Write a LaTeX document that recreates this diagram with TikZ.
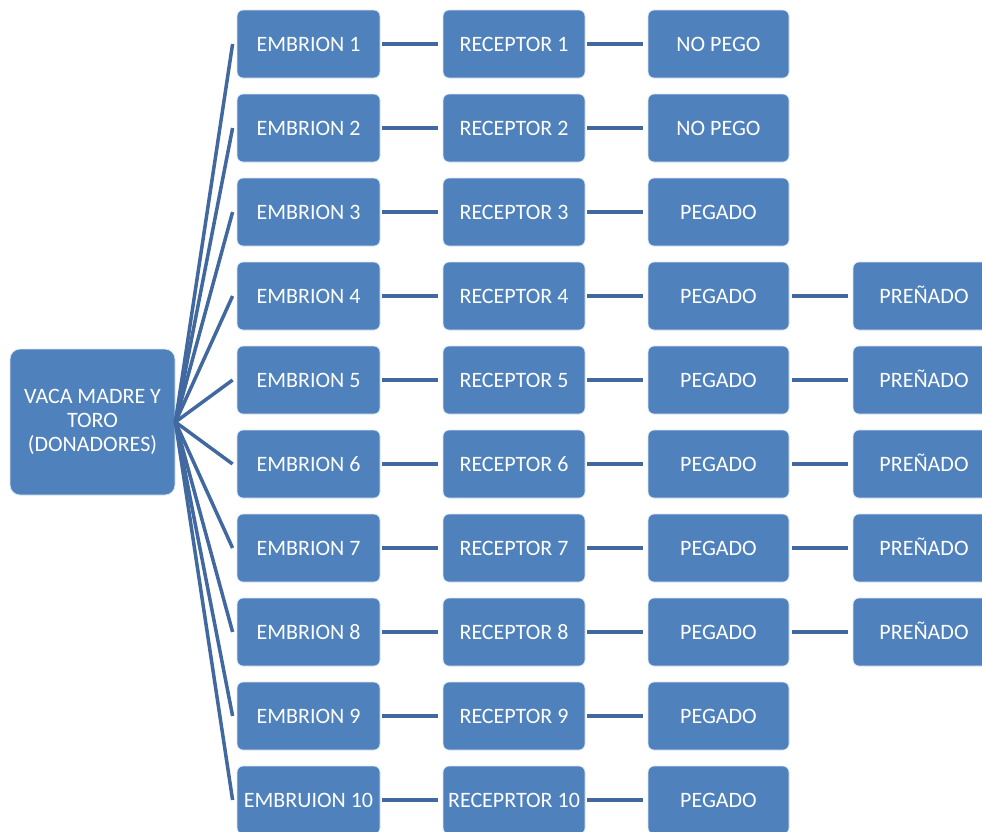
\documentclass[tikz,border=0pt]{standalone}
\usepackage{fontspec}
\setmainfont{Carlito}
\usetikzlibrary{calc}
\definecolor{boxblue}{HTML}{4F81BD}
\definecolor{linkblue}{HTML}{41699F}
\begin{document}
\begin{tikzpicture}[x=1pt,y=-1pt,
 box/.style={draw=white!80!boxblue, line width=0.8pt, fill=boxblue, rounded corners=6pt, minimum width=142pt, minimum height=68pt, inner sep=0pt, text=white, font=\fontsize{22}{24}\selectfont, align=center},
 onebox/.style={box, text height=14pt, text depth=0pt},
 link/.style={draw=linkblue, line width=4.5pt},
 fan/.style={draw=linkblue, line width=3.5pt}]
\useasboundingbox (0,0) rectangle (982,831);
\clip (0,0) rectangle (982,831);
\node[box, minimum width=165pt, minimum height=146pt, rounded corners=10pt] (r) at (92.5,422) {VACA MADRE Y\\TORO\\(DONADORES)};
\foreach \i/\ea/\ca/\pa in {1/EMBRION 1/RECEPTOR 1/NO PEGO, 2/EMBRION 2/RECEPTOR 2/NO PEGO, 3/EMBRION 3/RECEPTOR 3/PEGADO, 4/EMBRION 4/RECEPTOR 4/PEGADO, 5/EMBRION 5/RECEPTOR 5/PEGADO, 6/EMBRION 6/RECEPTOR 6/PEGADO, 7/EMBRION 7/RECEPTOR 7/PEGADO, 8/EMBRION 8/RECEPTOR 8/PEGADO, 9/EMBRION 9/RECEPTOR 9/PEGADO, 10/EMBRUION 10/RECEPRTOR 10/PEGADO}{
  \pgfmathsetmacro{\yc}{44+84*(\i-1)}
  \node[onebox, minimum width=143pt] (e\i) at (308.5,\yc) {\ea};
  \node[onebox] (c\i) at (514,\yc) {\ca};
  \node[onebox, minimum width=141pt] (p\i) at (718.5,\yc) {\pa};
  \coordinate (f\i) at ($(e\i.west)+(-4,0)$);
  \draw[fan] (r.east) -- (f\i);
  \draw[link] ($(e\i.east)+(2,0)$) -- ($(c\i.west)+(-5,0)$);
  \draw[link] ($(c\i.east)+(2,0)$) -- ($(p\i.west)+(-5,0)$);
}
\foreach \i in {4,...,8}{
  \pgfmathsetmacro{\yc}{44+84*(\i-1)}
  \node[onebox] (q\i) at (924,\yc) {PREÑADO};
  \draw[link] ($(p\i.east)+(3,0)$) -- ($(q\i.west)+(-5,0)$);
}
\end{tikzpicture}
\end{document}
